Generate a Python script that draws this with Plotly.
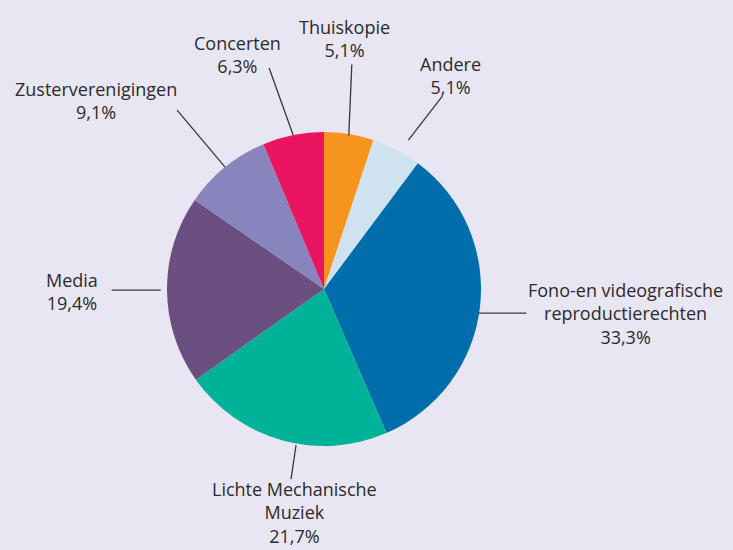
import math
import plotly.graph_objects as go

# ---- data ----
categories = ["Thuiskopie", "Andere", "Fono-en videografische<br>reproductierechten",
              "Lichte Mechanische<br>Muziek", "Media", "Zusterverenigingen", "Concerten"]
values = [5.1, 5.1, 33.3, 21.7, 19.4, 9.1, 6.3]
value_labels = ["5,1%", "5,1%", "33,3%", "21,7%", "19,4%", "9,1%", "6,3%"]
colors = ["#F7941D", "#CFE2F0", "#006EAB", "#00B398", "#6B4F80", "#8983BE", "#EA1460"]

# ---- layout (pixels) ----
W, H = 733, 550
CX, CY, R = 324, 289, 157
# leader line style: (angle shift deg, start radius factor, end offset (dx, dy), label offset (dx, dy))
leader = [
    (0.0, 0.99, (3, -71), (-7, -26)),
    (2.0, 1.09, (34, -44), (8, -21)),
    (2.3, 0.99, (49, 0), (99, 0)),
    (-5.5, 1.01, (-5, 34), (3, 33)),
    (0.0, 1.04, (-49, 0), (-40, 1)),
    (0.0, 1.0, (-48, -57), (-81, -10)),
    (0.0, 1.0, (-24, -67), (-32, -14)),
]

def px(x):
    return x / W

def py(y):
    return 1 - y / H

fig = go.Figure(go.Pie(
    values=values,
    labels=[c.replace("<br>", " ") for c in categories],
    marker=dict(colors=colors, line=dict(width=0)),
    sort=False,
    direction="clockwise",
    rotation=0,
    textinfo="none",
    hoverinfo="label+percent",
    showlegend=False,
    domain=dict(x=[px(CX - R), px(CX + R)], y=[py(CY + R), py(CY - R)]),
))

total = sum(values)
cum = 0.0
shapes, annotations = [], []
for cat, v, lab, (shift, rf, (dx, dy), (lx, ly)) in zip(categories, values, value_labels, leader):
    mid = (cum + v / 2) / total * 2 * math.pi + math.radians(shift)
    cum += v
    sx = CX + R * rf * math.sin(mid)
    sy = CY - R * rf * math.cos(mid)
    ex, ey = sx + dx, sy + dy
    shapes.append(dict(type="line", xref="paper", yref="paper",
                       x0=px(sx), y0=py(sy), x1=px(ex), y1=py(ey),
                       line=dict(color="#383838", width=1.3)))
    annotations.append(dict(xref="paper", yref="paper",
                            x=px(ex + lx), y=py(ey + ly),
                            xanchor="center", yanchor="middle",
                            text=f"{cat}<br>{lab}", showarrow=False,
                            align="center",
                            font=dict(family="Open Sans, sans-serif", size=18, color="#2b2b2b")))

fig.update_layout(
    width=W, height=H,
    margin=dict(l=0, r=0, t=0, b=0),
    paper_bgcolor="#E8E6F2",
    plot_bgcolor="#E8E6F2",
    shapes=shapes,
    annotations=annotations,
)

fig.write_html("out.html",
               config={"displayModeBar": False},
               post_script="document.body.style.margin='0';document.body.style.overflow='hidden';")
